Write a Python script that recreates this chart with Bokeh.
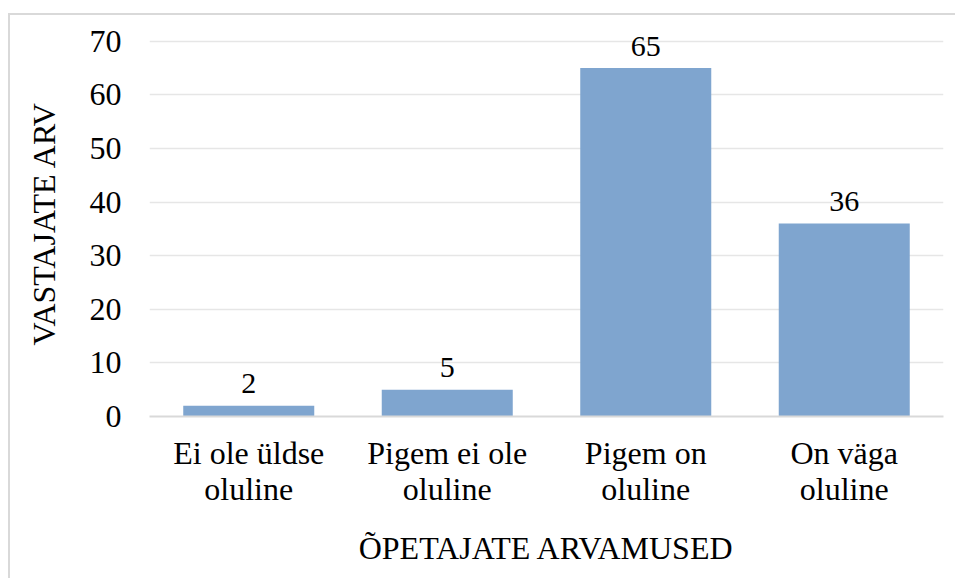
from bokeh.plotting import figure
from bokeh.models import FactorRange, Range1d, ColumnDataSource, FixedTicker
from bokeh.transform import dodge
from bokeh.embed import file_html
from bokeh.resources import INLINE
from bokeh.core.properties import value

categories = ["Ei ole üldse\noluline", "Pigem ei ole\noluline", "Pigem on\noluline", "On väga\noluline"]
counts = [2, 5, 65, 36]
labels = ["2", "5", "65", "36"]
y_ticks = [0, 10, 20, 30, 40, 50, 60, 70]

FONT = "'Liberation Serif', 'Times New Roman', serif"
TICK_FS = "32px"
TITLE_FS = "32px"
LABEL_FS = "30px"

src = ColumnDataSource(dict(cat=categories, n=counts, lab=labels))

# y range extends slightly above the top tick so the "65" label is not clipped
p = figure(width=947, height=565, output_backend="svg", toolbar_location=None,
           x_range=FactorRange(*categories, range_padding=0),
           y_range=Range1d(0, 72),
           min_border_left=139, min_border_right=14, min_border_top=15, min_border_bottom=164)
p.styles = {"margin-left": "8px", "margin-top": "13px",
            "border-left": "2px solid #d9d9d9", "border-top": "2px solid #d9d9d9"}
p.outline_line_color = None
p.background_fill_color = "white"
p.border_fill_color = "white"

p.vbar(x="cat", top="n", width=0.66, source=src, fill_color="#7fa5cf", line_color=None)
p.text(x="cat", y=dodge("n", 4.1, range=p.y_range), text="lab", source=src,
       text_align="center", text_baseline="alphabetic",
       text_font=value(FONT), text_font_size=LABEL_FS, text_color="#000000")

p.xgrid.grid_line_color = None
p.ygrid.grid_line_color = "#e6e6e6"
p.ygrid.grid_line_width = 1.5
p.yaxis.ticker = FixedTicker(ticks=y_ticks)

for ax in (p.xaxis[0], p.yaxis[0]):
    ax.major_tick_line_color = None
    ax.minor_tick_line_color = None
    ax.major_label_text_font = FONT
    ax.major_label_text_font_size = TICK_FS
    ax.major_label_text_color = "#000000"
    ax.axis_label_text_font = FONT
    ax.axis_label_text_font_size = TITLE_FS
    ax.axis_label_text_font_style = "normal"
    ax.axis_label_text_color = "#000000"

p.yaxis.axis_line_color = None
p.yaxis.major_label_standoff = 22
p.yaxis.axis_label = "VASTAJATE ARV"
p.yaxis.axis_label_standoff = 25

p.xaxis.axis_line_color = "#d9d9d9"
p.xaxis.axis_line_width = 2
p.xaxis.major_label_standoff = 12
p.xaxis.major_label_text_line_height = 1.0
p.xaxis.axis_label = "ÕPETAJATE ARVAMUSED"
p.xaxis.axis_label_standoff = 20

open("out.html", "w").write(file_html(p, INLINE))
